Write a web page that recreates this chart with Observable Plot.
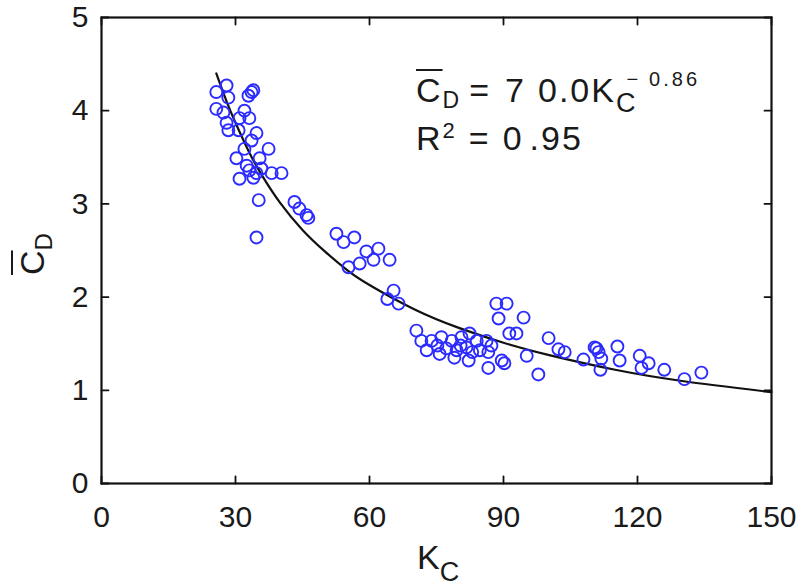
<!DOCTYPE html>
<html>
<head>
<meta charset="utf-8">
<script src="https://cdn.jsdelivr.net/npm/d3@7"></script>
<script src="https://cdn.jsdelivr.net/npm/@observablehq/plot@0.6"></script>
<style>
  html, body { margin: 0; padding: 0; background: #fff; }
  #wrap { position: relative; width: 798px; height: 588px; font-family: "Liberation Sans", Arial, sans-serif; color: #1a1a1a; }
  #wrap svg { position: absolute; left: 0; top: 0; }
  .lbl { position: absolute; white-space: nowrap; line-height: 1; }
  .ov { text-decoration: overline; text-decoration-thickness: 2px; }
  .r { position: relative; }
</style>
</head>
<body>
<div id="wrap"></div>
<script>
// Measured data: K_C (x) and mean C_D (y)
const kc = [
  25.7, 28.0, 28.4, 33.6, 32.9, 34.0, 25.7, 27.3, 32.0, 30.9, 33.1, 28.0, 28.4, 30.7, 34.7, 33.6,
  37.4, 32.0, 30.2, 35.4, 33.1, 34.7, 38.1, 40.3, 30.9, 34.0, 35.8, 32.5, 35.2, 34.7, 43.2, 44.3,
  45.9, 46.3,
  52.6, 54.2, 56.6, 59.3, 62.0, 57.8, 60.9, 64.5, 55.3, 65.4, 64.0, 66.5,
  70.5, 88.4, 90.7, 88.9, 94.5, 91.3, 92.9, 100.1, 95.2, 97.8, 90.2, 86.6, 82.2, 79.0, 75.7, 72.8,
  71.6, 73.9, 76.1, 78.4, 80.6, 82.4, 84.0, 86.2, 87.3, 77.2, 79.5, 81.7, 84.7, 86.6, 83.0, 80.4,
  75.2, 89.6,
  102.3, 103.7, 107.9, 110.4, 110.8, 111.3, 111.9, 111.7, 115.5, 116.0, 120.5, 120.9, 122.5, 126.0,
  130.5, 134.3
];
const cd = [
  4.20, 4.27, 4.14, 4.20, 4.16, 4.22, 4.02, 3.98, 4.00, 3.92, 3.92, 3.87, 3.79, 3.79, 3.76, 3.68,
  3.59, 3.59, 3.49, 3.49, 3.36, 3.33, 3.33, 3.33, 3.27, 3.28, 3.38, 3.41, 3.04, 2.64, 3.02, 2.95,
  2.88, 2.85,
  2.68, 2.59, 2.64, 2.49, 2.52, 2.36, 2.40, 2.40, 2.32, 2.07, 1.98, 1.93,
  1.64, 1.93, 1.93, 1.77, 1.78, 1.61, 1.61, 1.56, 1.37, 1.17, 1.29, 1.24, 1.32, 1.35, 1.39, 1.43,
  1.53, 1.53, 1.57, 1.53, 1.57, 1.61, 1.53, 1.53, 1.48, 1.45, 1.43, 1.46, 1.43, 1.41, 1.41, 1.48,
  1.48, 1.32,
  1.44, 1.41, 1.33, 1.46, 1.45, 1.41, 1.34, 1.22, 1.47, 1.32, 1.37, 1.24, 1.29, 1.22,
  1.12, 1.19
];
// Fitted power-law curve (C_D = 70.0 K_C^-0.86)
const fitK = [25.7, 28, 30, 33, 36, 40, 45, 50, 55, 60, 70, 80, 90, 100, 115, 130, 150];
const fitC = [4.40, 4.10, 3.87, 3.56, 3.30, 3.01, 2.72, 2.49, 2.29, 2.13, 1.87, 1.67, 1.51, 1.38, 1.22, 1.10, 0.98];
const xTicks = [0, 30, 60, 90, 120, 150];
const yTicks = [0, 1, 2, 3, 4, 5];

const points = kc.map((k, i) => ({k, c: cd[i]}));
const fit = fitK.map((k, i) => ({k, c: fitC[i]}));
const fmt = d => String(d);
const xMin = xTicks[0], xMax = xTicks[xTicks.length - 1];
const yMin = yTicks[0], yMax = yTicks[yTicks.length - 1];
// plain line shape for inward tick marks
const lineShape = {draw(context, l) { context.moveTo(0, 0); context.lineTo(0, -l); }};

function build(shape) {
  const tickStyle = {stroke: "#111", strokeWidth: 1.8, length: 7, anchor: "start"};
  if (shape) tickStyle.shape = shape;
  return Plot.plot({
    width: 798,
    height: 588,
    marginLeft: 101,
    marginRight: 27,
    marginTop: 17,
    marginBottom: 105,
    x: {domain: [xMin, xMax]},
    y: {domain: [yMin, yMax]},
    style: {fontFamily: "'Liberation Sans', Arial, sans-serif", fontSize: "30px", color: "#1a1a1a", background: "#fff"},
    marks: [
      // tick labels
      Plot.axisX(xTicks, {anchor: "bottom", tickSize: 0, tickPadding: 22, tickFormat: fmt, label: null, fontSize: 30}),
      Plot.axisY(yTicks, {anchor: "left", tickSize: 0, tickPadding: 13, tickFormat: fmt, label: null, fontSize: 30}),
      // inward tick marks on all four sides
      Plot.vector(xTicks, {x: d => d, y: () => yMin, rotate: 0, ...tickStyle}),
      Plot.vector(xTicks, {x: d => d, y: () => yMax, rotate: 180, ...tickStyle}),
      Plot.vector(yTicks, {y: d => d, x: () => xMin, rotate: 90, ...tickStyle}),
      Plot.vector(yTicks, {y: d => d, x: () => xMax, rotate: -90, ...tickStyle}),
      Plot.line(fit, {x: "k", y: "c", curve: "natural", stroke: "#111", strokeWidth: 2.2}),
      Plot.dot(points, {x: "k", y: "c", r: 6, stroke: "#2b2bff", strokeWidth: 1.9, fill: "none"}),
      Plot.frame({stroke: "#111", strokeWidth: 2.2})
    ]
  });
}
let chart;
try { chart = build(lineShape); } catch (e) { chart = build(null); }
const wrap = document.getElementById("wrap");
wrap.appendChild(chart);

// Labels and annotation as real text
wrap.insertAdjacentHTML("beforeend", `
  <div class="lbl" style="left:417px; top:540px; font-size:34px;">K<span class="r" style="font-size:27px; top:12px;">C</span></div>
  <div class="lbl" style="left:2px; top:228px; font-size:34px; transform: rotate(-90deg); transform-origin: 30px 17px;"><span class="ov">C</span><span class="r" style="font-size:24px; top:8px;">D</span></div>
  <div class="lbl" style="left:416px; top:73px; font-size:34px; letter-spacing:2px;"><span class="ov">C</span><span class="r" style="font-size:23px; top:6px;">D</span><span style="margin-left:8px;">=</span><span style="margin-left:14px;">7</span><span style="margin-left:12px;">0.0K</span><span class="r" style="font-size:27px; top:10px;">C</span><span class="r" style="font-size:20px; top:-16px; margin-left:-11px; letter-spacing:3px;">−<span style="margin-left:8px;">0.86</span></span></div>
  <div class="lbl" style="left:416px; top:121px; font-size:34px; letter-spacing:2px;">R<span class="r" style="font-size:22px; top:-12px;">2</span><span style="margin-left:12px;">=</span><span style="margin-left:12px;">0</span><span style="margin-left:6px;">.95</span></div>
`);
</script>
</body>
</html>
